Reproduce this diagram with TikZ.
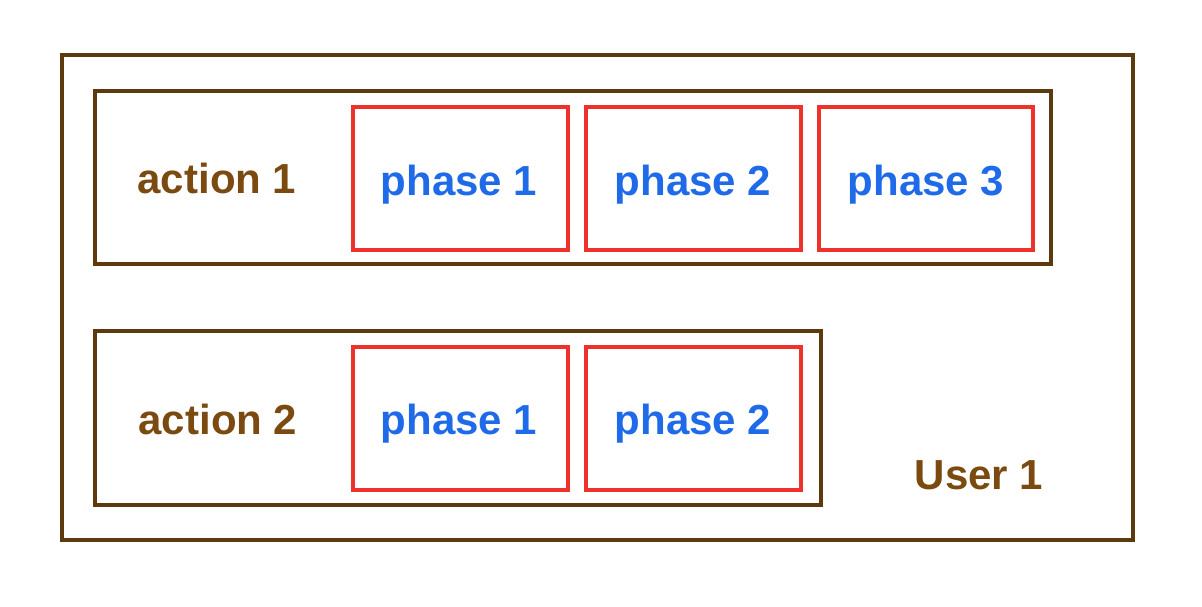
\documentclass[tikz,border=0pt]{standalone}
\usepackage{fontspec}
\setmainfont{Liberation Sans}
\definecolor{linebrown}{HTML}{5C3A0E}
\definecolor{textbrown}{HTML}{7A4A10}
\definecolor{phred}{HTML}{F0302A}
\definecolor{phblue}{HTML}{1F6AE8}
\begin{document}
\begin{tikzpicture}[x=1pt,y=-1pt,
  box/.style={draw=linebrown,line width=4pt},
  phasebox/.style={draw=phred,line width=3.5pt},
  lbl/.style={font=\fontsize{42}{48}\selectfont\bfseries,text=textbrown,inner sep=0pt},
  phlbl/.style={font=\fontsize{42}{48}\selectfont\bfseries,text=phblue,inner sep=0pt}]
\useasboundingbox (0,0) rectangle (1202,606);
\draw[box] (62,55) rectangle (1133,540);
\draw[box] (95,91) rectangle (1051,264);
\draw[box] (95,331) rectangle (821,505);
\draw[phasebox] (353,107) rectangle (568,250);
\draw[phasebox] (586,107) rectangle (801,250);
\draw[phasebox] (819,107) rectangle (1033,250);
\draw[phasebox] (353,347) rectangle (568,490);
\draw[phasebox] (586,347) rectangle (801,490);
\node[lbl] (a1) at (217,178) {action 1};
\node[lbl] (a2) at (218,419) {action 2};
\node[lbl] (u1) at (979,475) {User 1};
\node[phlbl] (p11) at (459,185) {phase 1};
\node[phlbl] (p12) at (693,185) {phase 2};
\node[phlbl] (p13) at (926,185) {phase 3};
\node[phlbl] (p21) at (459,424) {phase 1};
\node[phlbl] (p22) at (693,424) {phase 2};
\end{tikzpicture}
\end{document}
